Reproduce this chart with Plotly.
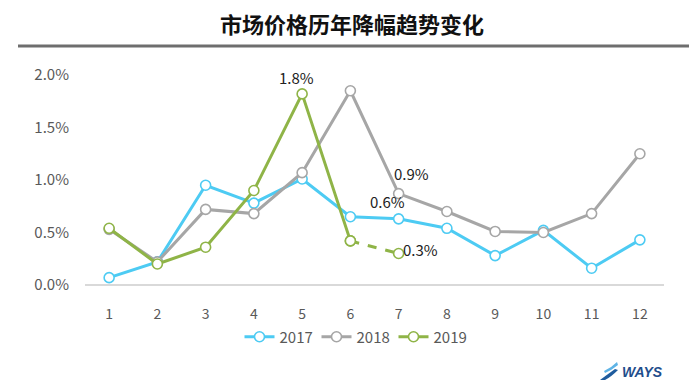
import plotly.graph_objects as go

months = [1, 2, 3, 4, 5, 6, 7, 8, 9, 10, 11, 12]
y2017 = [0.07, 0.22, 0.95, 0.78, 1.01, 0.65, 0.63, 0.54, 0.28, 0.52, 0.16, 0.43]
y2018 = [0.53, 0.22, 0.72, 0.68, 1.07, 1.85, 0.87, 0.70, 0.51, 0.50, 0.68, 1.25]
y2019 = [0.54, 0.20, 0.36, 0.90, 1.82, 0.42]
y2019_forecast_x = [6, 7]
y2019_forecast = [0.42, 0.30]
yticks = [0, 0.5, 1.0, 1.5, 2.0]
ytick_labels = ["0.0%", "0.5%", "1.0%", "1.5%", "2.0%"]

c17 = "#4DCBF3"
c18 = "#A6A6A6"
c19 = "#8FB447"
font = "Noto Sans CJK SC"

L, R, T, B = 77, 44, 67, 111
PW, PH = 700 - L - R, 388 - T - B


def px(X):
    return (X - L) / PW


def py(Y):
    return (388 - B - Y) / PH


fig = go.Figure()


def mk(color):
    return dict(symbol="circle", size=10, color="white", line=dict(color=color, width=1.6))


fig.add_trace(go.Scatter(x=months, y=y2017, name="2017", mode="lines+markers",
                         line=dict(color=c17, width=3), marker=mk(c17), cliponaxis=False))
fig.add_trace(go.Scatter(x=months, y=y2018, name="2018", mode="lines+markers",
                         line=dict(color=c18, width=3), marker=mk(c18), cliponaxis=False))
fig.add_trace(go.Scatter(x=y2019_forecast_x, y=y2019_forecast, showlegend=False, mode="lines+markers",
                         line=dict(color=c19, width=3, dash="dash"), marker=mk(c19), cliponaxis=False))
fig.add_trace(go.Scatter(x=months[:len(y2019)], y=y2019, name="2019", mode="lines+markers",
                         line=dict(color=c19, width=3), marker=mk(c19), cliponaxis=False))

ann_style = dict(showarrow=False, font=dict(family=font, size=15, color="#222222"))
fig.add_annotation(x=5, y=y2019[4], text="1.8%", xshift=-6, yshift=16, **ann_style)
fig.add_annotation(x=7, y=y2018[6], text="0.9%", xshift=13, yshift=20, **ann_style)
fig.add_annotation(x=7, y=y2017[6], text="0.6%", xshift=-11, yshift=17, **ann_style)
fig.add_annotation(x=7, y=y2019_forecast[1], text="0.3%", xshift=22, yshift=4, **ann_style)

fig.add_annotation(xref="paper", yref="paper", x=px(344), y=py(15), xanchor="center", yanchor="middle",
                   text="<b>市场价格历年降幅趋势变化</b>",
                   showarrow=False, font=dict(family=font, size=22, color="#111111"))
fig.add_shape(type="line", xref="paper", yref="paper", x0=px(10), x1=px(681), y0=py(38), y1=py(38),
              line=dict(color="#6E6E6E", width=3))

# WAYS logo
fig.add_annotation(xref="paper", yref="paper", x=px(634), y=py(364), xanchor="center", yanchor="middle",
                   text="<b><i>WAYS</i></b>",
                   showarrow=False, font=dict(family="Liberation Sans", size=14, color="#1F4E8C"))
fig.add_shape(type="path", xref="paper", yref="paper",
              path=f"M {px(592)},{py(372)} Q {px(600)},{py(366)} {px(607)},{py(361)} L {px(610)},{py(362)} "
                   f"Q {px(603)},{py(369)} {px(597)},{py(372)} Z",
              fillcolor="#1F5C9E", line=dict(width=0))
fig.add_shape(type="path", xref="paper", yref="paper",
              path=f"M {px(596)},{py(363)} Q {px(603)},{py(360)} {px(609)},{py(354)} L {px(610)},{py(357)} "
                   f"Q {px(604)},{py(362)} {px(597)},{py(365)} Z",
              fillcolor="#5FB4E6", line=dict(width=0))

fig.update_layout(
    width=700, height=388,
    margin=dict(l=L, r=R, t=T, b=B),
    plot_bgcolor="white", paper_bgcolor="white",
    showlegend=True,
    legend=dict(orientation="h", x=px(347), xanchor="center", y=py(329), yanchor="middle",
                font=dict(family=font, size=15, color="#595959"), entrywidth=32, entrywidthmode="pixels"),
    xaxis=dict(range=[0.5, 12.5], tickvals=months, showgrid=False, zeroline=False,
               showline=False, tickfont=dict(family=font, size=14, color="#595959"), ticks="",
               ticklabelstandoff=19),
    yaxis=dict(range=[0, 2.0], tickvals=yticks, ticktext=ytick_labels, showgrid=False,
               zeroline=True, zerolinecolor="#D9D9D9", zerolinewidth=2, showline=False,
               tickfont=dict(family=font, size=15, color="#595959"), ticks="", ticklabelstandoff=15),
    hovermode=False,
)

fig.write_html("out.html")
